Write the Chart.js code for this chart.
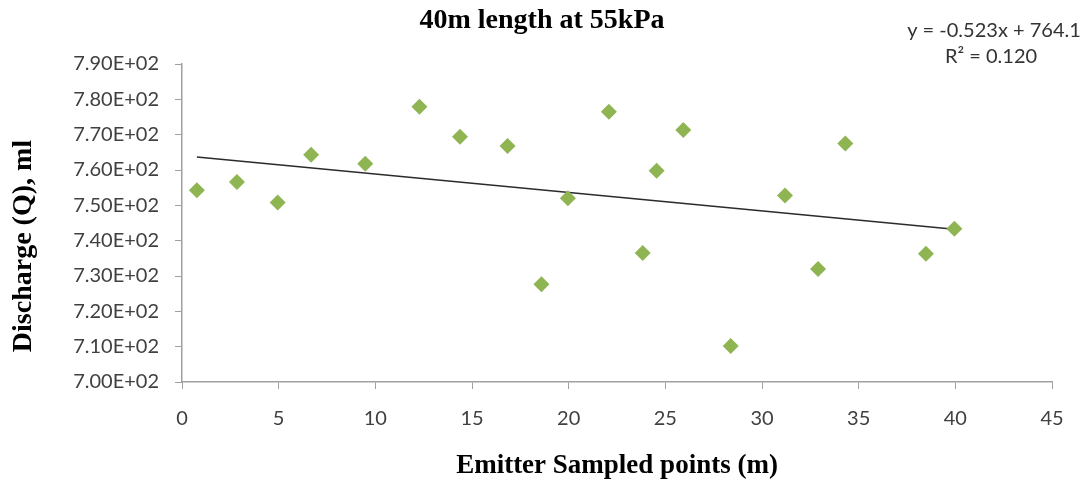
<!DOCTYPE html>
<html>
<head>
<meta charset="utf-8">
<title>40m length at 55kPa</title>
<script src="https://cdn.jsdelivr.net/npm/chart.js@4.4.1/dist/chart.umd.min.js"></script>
<style>
  html, body { margin: 0; padding: 0; background: #fff; }
  #wrap { width: 1088px; height: 484px; }
</style>
</head>
<body>
<div id="wrap"><canvas id="scatter-chart"></canvas></div>
<script>
// data
const emitterPoints = [0.77, 2.84, 4.95, 6.68, 9.48, 12.28, 14.38, 16.84, 18.59, 19.96,
  22.08, 23.83, 24.55, 25.93, 28.38, 31.19, 32.9, 34.31, 38.48, 39.95];
const dischargeMl = [754.3, 756.6, 750.8, 764.3, 761.8, 777.9, 769.4, 766.8, 727.7, 752.0,
  776.5, 736.5, 759.8, 771.3, 710.2, 752.8, 732.0, 767.5, 736.3, 743.4];

// trendline as printed on the chart
const trendSlope = -0.523;
const trendIntercept = 764.1;
const trendLabels = ['y = -0.523x + 764.1', 'R\u00b2 = 0.120'];

const chartTitle = '40m length at 55kPa';
const xTitle = 'Emitter Sampled points (m)';
const yTitle = 'Discharge (Q), ml';

const xMin = 0, xMax = 45, xStep = 5;
const yMin = 700, yMax = 790, yStep = 10;

const tickFont = { family: 'Lato, "Liberation Sans", sans-serif', size: 20 };
const titleFont = '"Liberation Serif", "Times New Roman", serif';

function sciLabel(v) {
  const parts = Number(v).toExponential(2).split('e');
  const exp = parts[1].replace('+', '');
  return parts[0] + 'E+' + exp.padStart(2, '0');
}

const pointData = emitterPoints.map((x, i) => ({ x: x, y: dischargeMl[i] }));
const firstX = emitterPoints[0];
const lastX = emitterPoints[emitterPoints.length - 1];
const trendData = [
  { x: firstX, y: trendSlope * firstX + trendIntercept },
  { x: lastX, y: trendSlope * lastX + trendIntercept }
];

// titles and equation text drawn on the canvas
const textPlugin = {
  id: 'chartTexts',
  afterDraw(chart) {
    const ctx = chart.ctx;
    ctx.save();
    ctx.fillStyle = '#000';
    ctx.textAlign = 'center';
    ctx.textBaseline = 'middle';
    ctx.font = 'bold 28px ' + titleFont;
    ctx.fillText(chartTitle, 542, 21);

    ctx.save();
    ctx.translate(24, 246);
    ctx.rotate(-Math.PI / 2);
    ctx.fillText(yTitle, 0, 0);
    ctx.restore();

    ctx.fillStyle = '#333';
    ctx.font = '20px ' + tickFont.family;
    ctx.fillText(trendLabels[0], 994, 31);
    ctx.fillText(trendLabels[1], 991, 57);
    ctx.restore();
  }
};

function setupScatterChart() {
  new Chart(document.getElementById('scatter-chart'), {
    type: 'scatter',
    data: {
      datasets: [
        {
          label: 'Discharge',
          data: pointData,
          pointStyle: 'rectRot',
          radius: 8,
          hoverRadius: 8,
          backgroundColor: '#8fb553',
          borderColor: '#8fb553',
          borderWidth: 0
        },
        {
          label: 'Linear trend',
          type: 'line',
          data: trendData,
          borderColor: '#2b2b2b',
          borderWidth: 1.5,
          pointRadius: 0,
          fill: false
        }
      ]
    },
    options: {
      responsive: false,
      animation: false,
      layout: { padding: { top: 64, right: 36, bottom: 0, left: 0 } },
      plugins: {
        legend: { display: false },
        tooltip: { enabled: false }
      },
      scales: {
        x: {
          type: 'linear',
          min: xMin,
          max: xMax,
          afterFit: function(scale) { scale.height = 102; },
          ticks: {
            stepSize: xStep,
            color: '#404040',
            font: tickFont,
            padding: 18
          },
          grid: { drawOnChartArea: false, drawTicks: true, tickLength: 7, color: '#a0a0a0' },
          border: { color: '#a0a0a0', width: 1.5 },
          title: {
            display: true,
            text: xTitle,
            color: '#000',
            font: { family: titleFont, size: 27, weight: 'bold' },
            padding: { top: 0, bottom: 2 }
          }
        },
        y: {
          min: yMin,
          max: yMax,
          afterFit: function(scale) { scale.width = 182; },
          ticks: {
            stepSize: yStep,
            color: '#404040',
            font: tickFont,
            padding: 16,
            callback: sciLabel
          },
          grid: { drawOnChartArea: false, drawTicks: true, tickLength: 7, color: '#a0a0a0' },
          border: { color: '#a0a0a0', width: 1.5 }
        }
      }
    },
    plugins: [textPlugin]
  });
}

const canvas = document.getElementById('scatter-chart');
canvas.width = 1088;
canvas.height = 484;
setupScatterChart();
</script>
</body>
</html>
